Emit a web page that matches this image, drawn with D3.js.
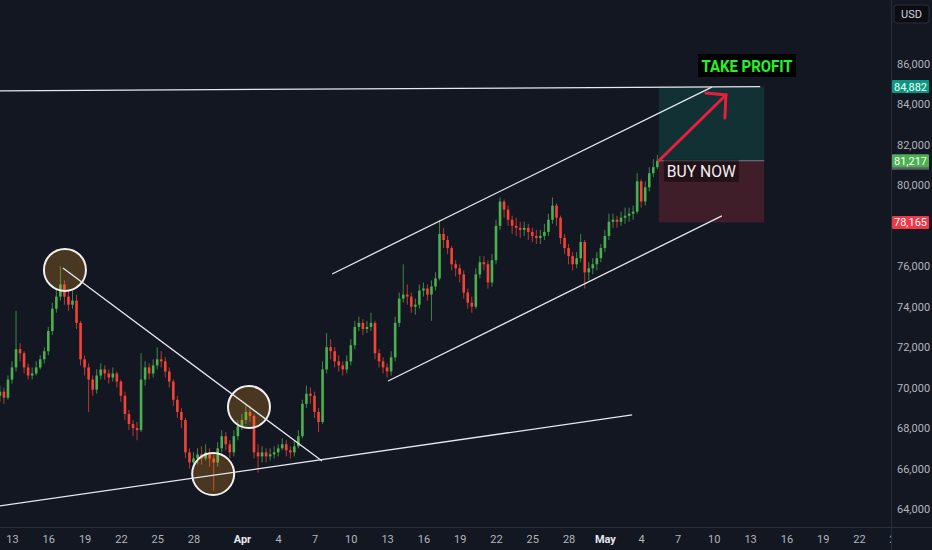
<!DOCTYPE html>
<html>
<head>
<meta charset="utf-8">
<script src="https://cdn.jsdelivr.net/npm/d3@7"></script>
<style>
  html, body { margin: 0; padding: 0; background: #131722; overflow: hidden; }
  svg { display: block; }
  text { font-family: "Trebuchet MS", Roboto, "Liberation Sans", sans-serif; }
</style>
</head>
<body>
<div id="chart"></div>
<script>
// chart size
var svgWidth = 932;
var svgHeight = 550;
var plotRight = 891;
var plotBottom = 527;

// 8h candles, prices in thousands of USD
var firstCandle = "2024-03-12T00:00Z";
var candleHours = 8;
var firstOpen = 69.6;

var closes = [
  69.8,69.5,70.4,71.0,71.9,71.7,71.0,70.6,70.7,71.0,
  71.4,71.8,72.8,73.9,74.5,75.1,74.5,74.1,74.3,73.2,
  71.4,71.0,70.4,69.9,70.6,70.9,70.7,70.5,70.7,70.3,
  69.6,68.7,68.2,68.0,67.9,70.4,71.0,70.7,71.1,71.4,
  71.3,70.8,70.3,69.4,68.8,68.4,66.8,66.3,66.5,66.7,
  66.5,66.8,66.5,66.3,67.0,67.6,67.2,66.8,67.6,68.1,
  68.4,68.8,68.6,66.8,66.6,66.8,66.6,66.7,66.8,67.0,
  67.2,66.9,66.8,67.1,67.6,69.2,69.7,69.6,68.8,68.3,
  70.9,72.0,71.8,71.3,71.1,70.9,71.3,72.1,73.0,73.2,
  72.9,73.0,73.2,71.7,71.3,71.0,70.8,71.5,73.2,74.4,
  74.6,74.5,74.0,74.1,74.8,74.9,74.6,75.0,75.4,77.6,
  77.3,76.9,76.1,75.9,75.6,74.7,74.2,74.0,75.6,76.2,
  76.1,75.2,76.3,78.0,79.2,78.8,78.3,78.0,77.9,77.8,
  77.9,77.7,77.5,77.4,77.5,77.7,78.3,79.0,78.4,77.4,
  76.9,76.5,76.1,76.4,77.2,75.7,75.9,76.1,76.4,76.9,
  77.5,78.2,78.3,78.2,78.4,78.5,78.6,78.7,80.2,79.2,
  79.9,80.6,80.9,81.217
];

var highs = [
  70.1,70.0,70.6,71.3,73.8,72.2,71.8,71.2,71.0,71.3,
  71.6,72.0,73.0,74.2,74.9,76.0,75.3,74.8,74.8,74.6,
  73.3,71.6,71.2,70.6,70.9,71.2,71.1,70.9,71.0,70.8,
  70.4,69.8,68.9,68.4,68.3,71.7,71.3,71.2,71.4,72.0,
  71.8,71.5,71.0,70.4,69.6,69.0,68.5,67.0,66.8,67.0,
  67.1,67.2,67.0,66.7,67.3,67.9,67.8,67.4,67.9,68.4,
  68.7,69.2,69.1,68.7,67.2,67.1,67.0,67.0,67.1,67.2,
  67.5,67.4,67.1,67.4,67.9,69.4,70.1,70.0,69.8,69.0,
  71.3,72.7,72.4,72.0,71.6,71.3,71.6,72.4,73.3,73.5,
  73.4,73.3,73.7,73.3,71.9,71.5,71.2,71.8,73.5,74.7,
  76.1,75.1,74.7,74.4,75.1,75.2,75.1,75.3,75.7,78.3,
  77.9,77.5,77.0,76.3,76.1,75.8,74.9,74.5,75.9,76.5,
  76.5,76.3,76.6,78.3,79.4,79.3,79.0,78.5,78.4,78.2,
  78.2,78.1,77.9,77.8,77.8,78.1,78.6,79.4,79.1,78.5,
  77.6,77.1,76.7,76.7,77.6,77.3,76.2,76.4,76.7,77.1,
  77.8,78.6,78.6,78.5,78.7,78.9,78.9,79.0,80.6,80.3,
  80.2,80.9,81.3,81.5
];

var lows = [
  69.3,69.2,69.4,70.2,70.8,71.3,70.7,70.4,70.4,70.6,
  70.9,71.2,71.6,72.6,73.7,74.3,74.1,73.8,73.9,72.9,
  71.1,70.6,68.8,69.6,69.7,70.4,70.4,70.2,70.3,70.0,
  69.3,68.4,67.9,67.6,67.4,67.8,70.1,70.4,70.5,70.9,
  71.0,70.5,70.0,69.1,68.5,68.0,66.5,66.0,66.0,66.2,
  66.2,66.4,66.1,64.9,66.1,66.8,66.9,66.5,66.6,67.4,
  67.9,68.2,68.3,66.5,65.8,66.3,66.3,66.4,66.5,66.6,
  66.9,66.6,66.5,66.6,67.0,67.5,69.0,69.2,68.5,67.8,
  68.2,70.7,71.4,71.0,70.8,70.6,70.7,71.1,71.9,72.8,
  72.6,72.7,72.8,71.4,71.0,70.7,70.5,70.6,71.3,73.0,
  74.2,74.1,73.7,73.6,73.9,74.5,74.3,73.3,74.8,75.3,
  76.9,76.6,75.8,75.5,75.2,74.4,73.9,73.7,73.9,75.4,
  75.8,74.9,75.0,76.1,77.8,78.4,78.0,77.6,77.5,77.4,
  77.5,77.3,77.2,77.1,77.1,77.3,77.5,78.1,78.0,77.1,
  76.6,76.1,75.8,75.9,76.2,74.9,75.3,75.6,75.8,76.2,
  76.7,77.3,77.9,77.9,78.0,78.1,78.2,78.3,78.6,78.9,
  79.0,79.7,80.4,80.8
];

// axis ticks (78,000 and 88,000 sit under the stop tag and the USD button)
var priceTicks = [64, 66, 68, 70, 72, 74, 76, 80, 82, 84, 86];
var dateTicks = ["2024-03-13","2024-03-16","2024-03-19","2024-03-22","2024-03-25","2024-03-28",
  "2024-04-01","2024-04-04","2024-04-07","2024-04-10","2024-04-13","2024-04-16","2024-04-19",
  "2024-04-22","2024-04-25","2024-04-28","2024-05-01","2024-05-04","2024-05-07","2024-05-10",
  "2024-05-13","2024-05-16","2024-05-19","2024-05-22","2024-05-25"];
var dateLabels = ["13","16","19","22","25","28","Apr","4","7","10","13","16","19",
  "22","25","28","May","4","7","10","13","16","19","22","25"];

// trade levels
var takeProfit = 84.882;
var entryPrice = 81.217;
var stopLoss = 78.165;
var tradeStart = "2024-05-05T11:00Z";
var tradeEnd = "2024-05-14T04:00Z";
var arrowTip = ["2024-05-11T00:00Z", 84.47];
var profitLabelAt = ["2024-05-12T18:00Z", 85.9];

// drawn trend lines: [time, price] pairs
var trendLines = [
  [["2024-03-12T00:00Z", 84.67], ["2024-05-13T20:00Z", 84.882]],
  [["2024-04-08T11:00Z", 75.62], ["2024-05-09T20:00Z", 84.86]],
  [["2024-04-13T02:00Z", 70.33], ["2024-05-10T16:00Z", 78.49]],
  [["2024-03-12T00:00Z", 64.15], ["2024-05-03T06:00Z", 68.65]],
  [["2024-03-17T05:00Z", 75.91], ["2024-04-07T15:00Z", 66.37]]
];

// circled swing points
var swingPoints = [
  ["2024-03-17T09:00Z", 75.82],
  ["2024-04-01T14:00Z", 69.04],
  ["2024-03-29T15:00Z", 65.73]
];

var candles = closes.map(function(c, i) {
  return {
    t: new Date(new Date(firstCandle).getTime() + i * candleHours * 3600 * 1000),
    o: i === 0 ? firstOpen : closes[i - 1],
    c: c,
    h: highs[i],
    l: lows[i]
  };
});

var svg = d3.select("#chart")
  .append("svg")
  .attr("width", svgWidth)
  .attr("height", svgHeight);

svg.append("rect")
  .attr("width", svgWidth)
  .attr("height", svgHeight)
  .attr("fill", "#131722");

var defs = svg.append("defs");
defs.append("clipPath").attr("id", "plotClip")
  .append("rect").attr("x", 0).attr("y", 0).attr("width", plotRight).attr("height", plotBottom);
defs.append("clipPath").attr("id", "xAxisClip")
  .append("rect").attr("x", 0).attr("y", plotBottom).attr("width", plotRight).attr("height", svgHeight - plotBottom);

var x = d3.scaleUtc()
  .domain([new Date("2024-03-13T00:00Z"), new Date("2024-05-22T00:00Z")])
  .range([12, 859]);

var y = d3.scaleLinear()
  .domain([64, 86])
  .range([509, 64]);

var plot = svg.append("g").attr("clip-path", "url(#plotClip)");

// trade zones
var x0 = x(new Date(tradeStart)), x1 = x(new Date(tradeEnd));
plot.append("rect")
  .attr("x", x0).attr("width", x1 - x0)
  .attr("y", y(takeProfit)).attr("height", y(entryPrice) - y(takeProfit))
  .attr("fill", "rgba(8,153,129,0.2)");
plot.append("rect")
  .attr("x", x0).attr("width", x1 - x0)
  .attr("y", y(entryPrice)).attr("height", y(stopLoss) - y(entryPrice))
  .attr("fill", "rgba(242,54,69,0.2)");
plot.append("line")
  .attr("x1", x0).attr("x2", x1)
  .attr("y1", y(entryPrice)).attr("y2", y(entryPrice))
  .attr("stroke", "#787b86").attr("stroke-width", 1);

// candles
var upColor = "#4caf50", downColor = "#f44336";
var bodyWidth = 2.6;
var candleG = plot.append("g");
candleG.selectAll("line.wick")
  .data(candles)
  .enter()
  .append("line")
  .attr("class", "wick")
  .attr("x1", d => x(d.t)).attr("x2", d => x(d.t))
  .attr("y1", d => y(d.h)).attr("y2", d => y(d.l))
  .attr("stroke", d => d.c >= d.o ? upColor : downColor)
  .attr("stroke-opacity", 0.75)
  .attr("stroke-width", 1);
candleG.selectAll("rect.body")
  .data(candles)
  .enter()
  .append("rect")
  .attr("class", "body")
  .attr("x", d => x(d.t) - bodyWidth / 2)
  .attr("width", bodyWidth)
  .attr("y", d => y(Math.max(d.o, d.c)))
  .attr("height", d => Math.max(1, Math.abs(y(d.o) - y(d.c))))
  .attr("fill", d => d.c >= d.o ? upColor : downColor);

// circles
plot.selectAll("circle.swing")
  .data(swingPoints)
  .enter()
  .append("circle")
  .attr("class", "swing")
  .attr("cx", d => x(new Date(d[0])))
  .attr("cy", d => y(d[1]))
  .attr("r", 21)
  .attr("fill", "rgba(255,165,30,0.23)")
  .attr("stroke", "#f0f0f0")
  .attr("stroke-width", 2);

// trend lines
plot.selectAll("line.trend")
  .data(trendLines)
  .enter()
  .append("line")
  .attr("class", "trend")
  .attr("x1", d => x(new Date(d[0][0]))).attr("y1", d => y(d[0][1]))
  .attr("x2", d => x(new Date(d[1][0]))).attr("y2", d => y(d[1][1]))
  .attr("stroke", "#e6e8ee")
  .attr("stroke-width", 1.3);

// arrow
var ax0 = x0, ay0 = y(entryPrice);
var ax1 = x(new Date(arrowTip[0])), ay1 = y(arrowTip[1]);
var arrowG = plot.append("g")
  .attr("stroke", "#e91e3f").attr("stroke-width", 3)
  .attr("stroke-linecap", "round").attr("fill", "none");
arrowG.append("line").attr("x1", ax0).attr("y1", ay0).attr("x2", ax1).attr("y2", ay1);
arrowG.append("polyline")
  .attr("points", [[ax1 - 20, ay1 - 2], [ax1, ay1], [ax1 - 1, ay1 + 23]].join(" "));

// BUY NOW label
plot.append("rect")
  .attr("x", x0 + 5).attr("y", y(entryPrice) - 1)
  .attr("width", 75).attr("height", 22)
  .attr("fill", "rgba(0,0,0,0.42)");
plot.append("text")
  .attr("x", x0 + 8).attr("y", y(entryPrice) + 16)
  .attr("fill", "#f2f2f2")
  .attr("font-size", 16)
  .attr("textLength", 69).attr("lengthAdjust", "spacingAndGlyphs")
  .text("BUY NOW");

// TAKE PROFIT label
var plx = x(new Date(profitLabelAt[0])), ply = y(profitLabelAt[1]);
plot.append("rect")
  .attr("x", plx - 49).attr("y", ply - 12)
  .attr("width", 98).attr("height", 23)
  .attr("fill", "#000");
plot.append("text")
  .attr("x", plx).attr("y", ply + 6)
  .attr("text-anchor", "middle")
  .attr("fill", "#22f522")
  .attr("font-size", 16).attr("font-weight", "bold")
  .attr("textLength", 91).attr("lengthAdjust", "spacingAndGlyphs")
  .text("TAKE PROFIT");

// axis separators
svg.append("line")
  .attr("x1", plotRight + 0.5).attr("x2", plotRight + 0.5)
  .attr("y1", 0).attr("y2", svgHeight)
  .attr("stroke", "#2a2e39");
svg.append("line")
  .attr("x1", 0).attr("x2", svgWidth)
  .attr("y1", plotBottom + 0.5).attr("y2", plotBottom + 0.5)
  .attr("stroke", "#2a2e39");

// price axis
var yAxis = d3.axisRight(y)
  .tickValues(priceTicks)
  .tickSize(0)
  .tickPadding(6)
  .tickFormat(d => d3.format(",")(d * 1000));
var yAxisG = svg.append("g")
  .attr("transform", `translate(${plotRight}, 0)`)
  .call(yAxis);
yAxisG.select(".domain").remove();
yAxisG.selectAll("text")
  .attr("fill", "#b2b5be")
  .attr("font-size", 11)
  .style("font-family", "'Trebuchet MS', Roboto, 'Liberation Sans', sans-serif");

// time axis
var xAxis = d3.axisBottom(x)
  .tickValues(dateTicks.map(d => new Date(d + "T00:00Z")))
  .tickSize(0)
  .tickPadding(8)
  .tickFormat((d, i) => dateLabels[i]);
var xAxisG = svg.append("g")
  .attr("clip-path", "url(#xAxisClip)")
  .append("g")
  .attr("transform", `translate(0, ${plotBottom})`)
  .call(xAxis);
xAxisG.select(".domain").remove();
xAxisG.selectAll("text")
  .attr("fill", (d, i) => isNaN(+dateLabels[i]) ? "#e6e8ee" : "#b2b5be")
  .attr("font-weight", (d, i) => isNaN(+dateLabels[i]) ? "bold" : "normal")
  .attr("font-size", 11)
  .style("font-family", "'Trebuchet MS', Roboto, 'Liberation Sans', sans-serif");

// price labels on the axis
var priceTags = [
  { p: takeProfit, fill: "#089981" },
  { p: entryPrice, fill: "#4caf50" },
  { p: stopLoss, fill: "#f23645" }
];
var tagG = svg.append("g");
tagG.append("rect")
  .attr("x", plotRight + 1).attr("y", y(entryPrice) + 6)
  .attr("width", 37).attr("height", 3)
  .attr("fill", "#5d606b");
tagG.selectAll("rect.tag")
  .data(priceTags)
  .enter()
  .append("rect")
  .attr("class", "tag")
  .attr("x", plotRight + 1)
  .attr("y", d => y(d.p) - 6.5)
  .attr("width", 37).attr("height", 13)
  .attr("rx", 1)
  .attr("fill", d => d.fill);
tagG.selectAll("text.tag")
  .data(priceTags)
  .enter()
  .append("text")
  .attr("class", "tag")
  .attr("x", plotRight + 19.5)
  .attr("y", d => y(d.p) + 4)
  .attr("text-anchor", "middle")
  .attr("fill", "#ffffff")
  .attr("font-size", 11)
  .text(d => d3.format(",")(Math.round(d.p * 1000)));

// currency button
svg.append("rect")
  .attr("x", 894).attr("y", 5)
  .attr("width", 35).attr("height", 18)
  .attr("rx", 3)
  .attr("fill", "#0b0d13")
  .attr("stroke", "#2a2e39");
svg.append("text")
  .attr("x", 911.5).attr("y", 18)
  .attr("text-anchor", "middle")
  .attr("fill", "#d1d4dc")
  .attr("font-size", 11)
  .text("USD");
</script>
</body>
</html>
